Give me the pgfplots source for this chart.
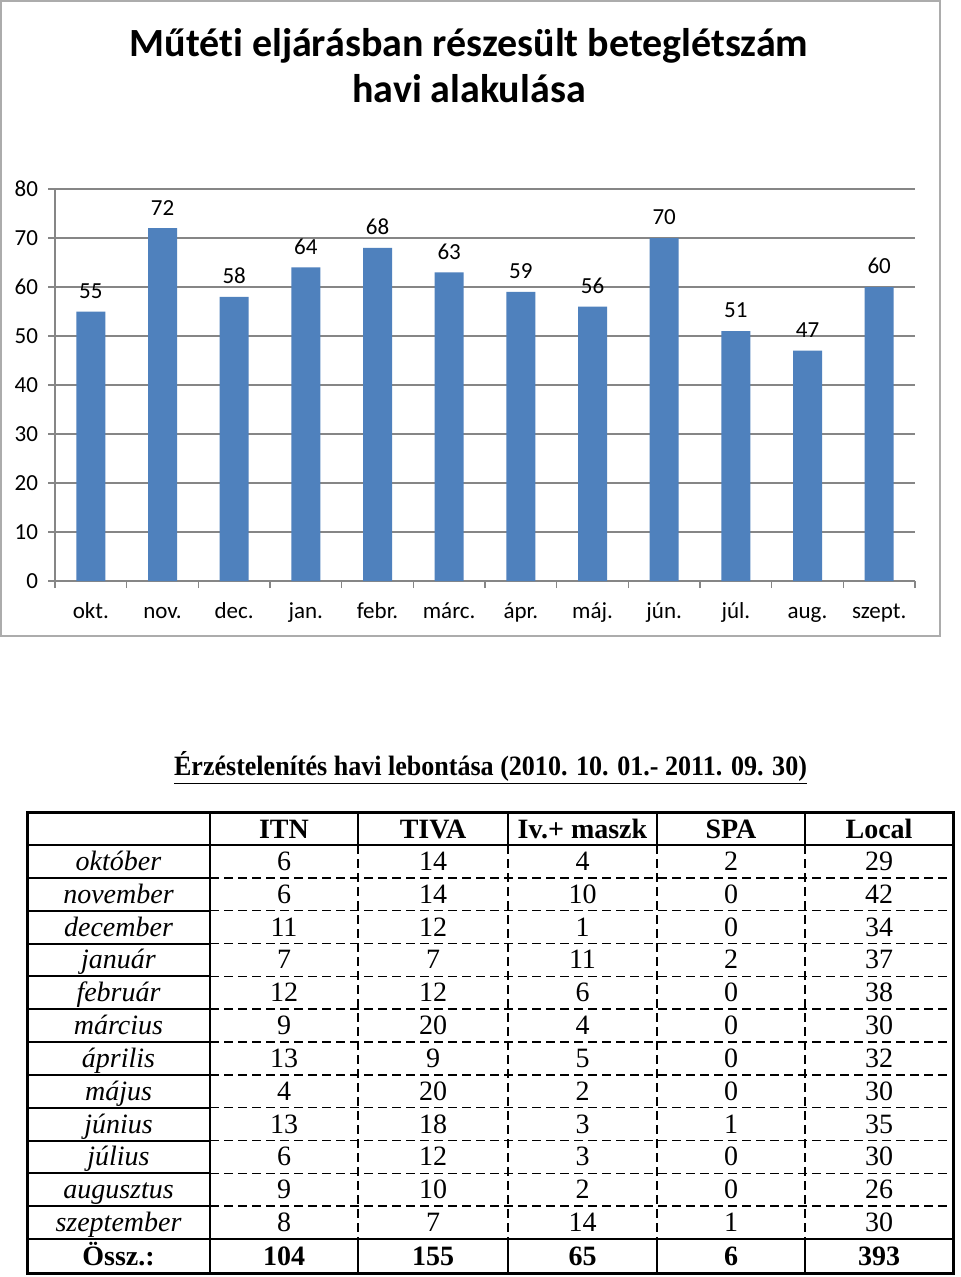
\documentclass[border=0pt]{standalone}
\usepackage{fontspec}
\setmainfont{Liberation Serif}
\newfontfamily\calibri[Ligatures=NoCommon]{Carlito}
\newfontfamily\condserif[FakeStretch=0.93]{Liberation Serif}
\usepackage{pgfplots}
\pgfplotsset{compat=1.18}
\definecolor{barblue}{HTML}{4F81BD}
\definecolor{gridgray}{HTML}{868686}
\begin{document}
\begin{tikzpicture}
\useasboundingbox (0,0) rectangle (480pt,-638.5pt);
\fill[white] (0,0) rectangle (480pt,-638.5pt);
\draw[gray!65, line width=1.2pt] (0.6pt,-0.6pt) rectangle (470pt,-318pt);
\node[font=\calibri\bfseries\fontsize{20}{24}\selectfont, anchor=base] at (234.5pt,-28.5pt) {Műtéti eljárásban részesült beteglétszám};
\node[font=\calibri\bfseries\fontsize{20}{24}\selectfont, anchor=base] at (234.5pt,-51.5pt) {havi alakulása};
\begin{axis}[
  at={(27.5pt,-290.5pt)}, anchor=south west,
  scale only axis, width=430pt, height=196pt,
  xmin=-0.5, xmax=11.5, ymin=0, ymax=80,
  ytick={0,10,...,80},
  xtick={-0.5,0.5,...,11.5},
  x tick label as interval,
  xticklabels={okt.,nov.,dec.,jan.,febr.,márc.,ápr.,máj.,jún.,júl.,aug.,szept.},
  axis x line*=bottom, axis y line*=left,
  axis line style={gridgray, line width=0.7pt},
  ymajorgrids, grid style={gridgray, line width=0.6pt},
  tick align=outside, major tick length=3.5pt,
  tick style={gridgray, line width=0.6pt},
  font=\calibri\fontsize{11.5}{13}\selectfont,
  /pgf/number format/assume math mode=true,
  ticklabel style={font=\calibri\fontsize{11.5}{13}\selectfont, text=black},
  xticklabel style={text height=1.6ex, text depth=0.5ex, yshift=-4.5pt},
  yticklabel style={xshift=-1.5pt},
]
\addplot[ybar, bar width=14.5pt, fill=barblue, draw=none,
  nodes near coords,
  nodes near coords style={font=\calibri\fontsize{11.5}{13}\selectfont, text=black, yshift=3pt}]
  coordinates {(0,55) (1,72) (2,58) (3,64) (4,68) (5,63) (6,59) (7,56) (8,70) (9,51) (10,47) (11,60)};
\end{axis}
\node[font=\condserif\bfseries\fontsize{14}{16}\selectfont, anchor=base] at (245.25pt,-387.5pt) {\underline{Érzéstelenítés havi lebontása (2010. 10. 01.- 2011. 09. 30)}};
\begin{scope}[x=0.5pt,y=-0.5pt]
\foreach \c/\lab in {284/ITN,433/TIVA,582.5/Iv.+ maszk,731/SPA,879/Local}
  \node[anchor=base,font=\bfseries\fontsize{14}{16}\selectfont] at (\c,838) {\lab};
\foreach \m/\a/\b/\c/\d/\e [count=\i] in {október/6/14/4/2/29, november/6/14/10/0/42, december/11/12/1/0/34, január/7/7/11/2/37, február/12/12/6/0/38, március/9/20/4/0/30, április/13/9/5/0/32, május/4/20/2/0/30, június/13/18/3/1/35, július/6/12/3/0/30, augusztus/9/10/2/0/26, szeptember/8/7/14/1/30}{
  \pgfmathsetmacro\yb{845+(\i-0.5)*32.833+9}
  \node[anchor=base,font=\itshape\fontsize{14}{16}\selectfont] at (118.5,\yb) {\m};
  \node[anchor=base,font=\fontsize{14}{16}\selectfont] at (284,\yb) {\a};
  \node[anchor=base,font=\fontsize{14}{16}\selectfont] at (433,\yb) {\b};
  \node[anchor=base,font=\fontsize{14}{16}\selectfont] at (582.5,\yb) {\c};
  \node[anchor=base,font=\fontsize{14}{16}\selectfont] at (731,\yb) {\d};
  \node[anchor=base,font=\fontsize{14}{16}\selectfont] at (879,\yb) {\e};
}
\foreach \c/\lab in {118.5/Össz.:,284/104,433/155,582.5/65,731/6,879/393}
  \node[anchor=base,font=\bfseries\fontsize{14}{16}\selectfont] at (\c,1265) {\lab};
\draw[line width=1pt] (27,845) -- (953,845);
\foreach \x in {358,508,657,805} \draw[line width=1pt] (\x,812) -- (\x,845);
\draw[line width=1.2pt] (210,812) -- (210,1273);
\foreach \i in {1,...,11}{
  \pgfmathsetmacro\yy{845+\i*32.833}
  \draw[line width=1pt] (27,\yy) -- (210,\yy);
  \draw[line width=0.8pt, dash pattern=on 4.5pt off 2.5pt] (210,\yy) -- (953,\yy);
}
\foreach \x in {358,508,657,805} \draw[line width=0.8pt, dash pattern=on 4.5pt off 2.5pt] (\x,845) -- (\x,1239);
\draw[line width=1pt] (27,1239) -- (953,1239);
\foreach \x in {358,508,657,805} \draw[line width=1pt] (\x,1239) -- (\x,1273);
\draw[line width=1.5pt] (27,812) rectangle (953,1273);
\end{scope}
\end{tikzpicture}
\end{document}
